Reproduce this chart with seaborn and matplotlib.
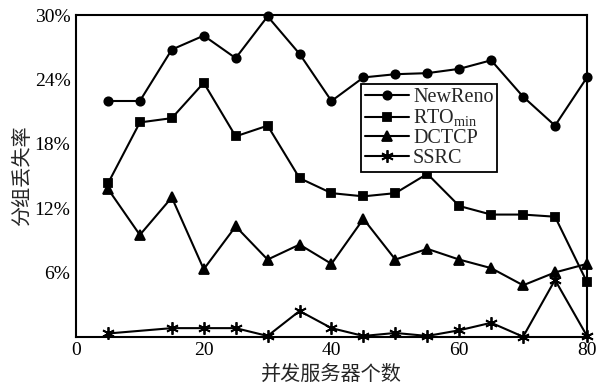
import matplotlib
matplotlib.use("Agg")
import matplotlib.pyplot as plt
import pandas as pd
import seaborn as sns

# Number of concurrent servers
servers = [5, 10, 15, 20, 25, 30, 35, 40, 45, 50, 55, 60, 65, 70, 75, 80]
servers_ssrc = [5, 15, 20, 25, 30, 35, 40, 45, 50, 55, 60, 65, 70, 75, 80]

# Packet loss rate (%)
newreno = [22.0, 22.0, 26.8, 28.1, 26.0, 29.9, 26.4, 22.0, 24.2, 24.5, 24.6, 25.0, 25.8, 22.4, 19.7, 24.2]
rto_min = [14.3, 20.0, 20.4, 23.7, 18.7, 19.7, 14.8, 13.4, 13.1, 13.4, 15.2, 12.2, 11.4, 11.4, 11.2, 5.1]
dctcp = [13.8, 9.5, 13.0, 6.3, 10.3, 7.2, 8.6, 6.8, 11.0, 7.2, 8.2, 7.2, 6.4, 4.8, 6.0, 6.8]
ssrc = [0.3, 0.8, 0.8, 0.8, 0.07, 2.4, 0.8, 0.07, 0.35, 0.07, 0.6, 1.3, 0.0, 5.3, 0.07]

labels = ["NewReno", r"RTO$_{\mathrm{min}}$", "DCTCP", "SSRC"]
y_ticks = [6, 12, 18, 24, 30]
x_ticks = [0, 20, 40, 60, 80]

sns.set_theme(style="white")
plt.rcParams["font.family"] = ["Liberation Serif", "Noto Sans CJK SC"]
plt.rcParams["mathtext.fontset"] = "custom"
plt.rcParams["mathtext.rm"] = "Liberation Serif"
plt.rcParams["axes.unicode_minus"] = False

fig = plt.figure(figsize=(5.97, 3.86), dpi=100)
ax = fig.add_axes([0.1273, 0.1277, 0.8559, 0.8327])

series = [
    (servers, newreno, "o", 6),
    (servers, rto_min, "s", 6),
    (servers, dctcp, "^", 7),
    (servers_ssrc, ssrc, (6, 2, 0), 9),
]
for (xs, ys, mk, ms), lab in zip(series, labels):
    df = pd.DataFrame({"x": xs, "y": ys})
    sns.lineplot(data=df, x="x", y="y", ax=ax, color="black", linewidth=1.5,
                 marker=mk, markersize=ms, markeredgecolor="black",
                 markeredgewidth=1.3, label=lab, clip_on=False)

ax.set_xlim(0, 80)
ax.set_ylim(0, 30)
ax.set_xticks(x_ticks)
ax.set_yticks(y_ticks)
ax.set_yticklabels([f"{v}%" for v in y_ticks])
ax.tick_params(direction="in", length=3, width=1.2, labelsize=14, colors="black", pad=4)
for s in ax.spines.values():
    s.set_color("black")
    s.set_linewidth(1.5)

ax.set_xlabel("并发服务器个数", fontsize=14.5, family=["Noto Sans CJK SC"], labelpad=3)
ax.set_ylabel("分组丢失率", fontsize=14.5, family=["Noto Sans CJK SC"], labelpad=1)

leg = ax.legend(loc="upper left", bbox_to_anchor=(0.557, 0.786), fontsize=14.5,
                frameon=True, fancybox=False, edgecolor="black", framealpha=1,
                handlelength=2.2, labelspacing=0.02, borderpad=0.2,
                handletextpad=0.2, borderaxespad=0)
leg.get_frame().set_linewidth(1.3)

fig.savefig("out.png", dpi=100)
